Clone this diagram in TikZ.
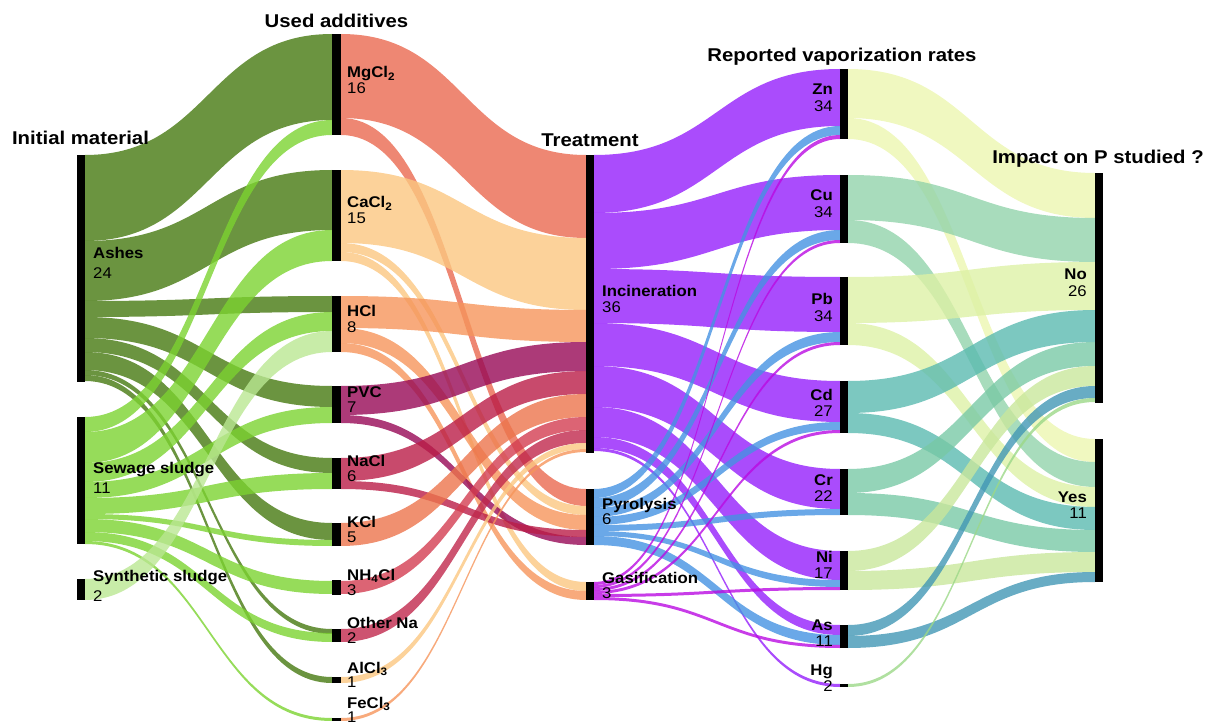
\documentclass[tikz,border=0pt]{standalone}
\usepackage{fontspec}
\setmainfont{Liberation Sans}
\usepackage{graphicx}
\usepackage{xcolor}
\usetikzlibrary{calc}

%% flow colours (drawn at 0.8 opacity)
\definecolor{ashcol}{RGB}{70,121,16}
\definecolor{sewcol}{RGB}{124,211,49}
\definecolor{syncol}{RGB}{186,231,146}
\definecolor{mgcol}{RGB}{234,105,80}
\definecolor{cacol}{RGB}{251,199,129}
\definecolor{hclcol}{RGB}{246,149,91}
\definecolor{pvccol}{RGB}{151,9,86}
\definecolor{naclcol}{RGB}{186,29,71}
\definecolor{kclcol}{RGB}{236,116,76}
\definecolor{nhcol}{RGB}{211,61,81}
\definecolor{othcol}{RGB}{192,40,76}
\definecolor{incol}{RGB}{149,31,251}
\definecolor{pyrcol}{RGB}{69,146,226}
\definecolor{gascol}{RGB}{186,11,226}
\definecolor{zncol}{RGB}{236,246,176}
\definecolor{cucol}{RGB}{146,211,171}
\definecolor{pbcol}{RGB}{221,241,166}
\definecolor{cdcol}{RGB}{91,186,176}
\definecolor{crcol}{RGB}{121,201,166}
\definecolor{nicol}{RGB}{201,231,156}
\definecolor{ascol}{RGB}{66,151,181}
\definecolor{hgcol}{RGB}{156,216,136}

%% band: x1, top1, bottom1, x2, top2, bottom2, colour
\newcommand\band[7]{%
  \fill[#7,fill opacity=0.8] (#1,#2) .. controls ({(#1+#4)/2},#2) and ({(#1+#4)/2},#5) .. (#4,#5)
    -- (#4,#6) .. controls ({(#1+#4)/2},#6) and ({(#1+#4)/2},#3) .. (#1,#3) -- cycle;}
%% black bar: name, x, top, bottom
\newcommand\colbar[4]{\node[bar,minimum height=#4-#3] (#1) at (#2,{(#3+#4)/2}) {};}
\newcommand\stagelab[3]{\scalebox{1.08}[1]{\begin{tabular}[t]{@{}#1@{}}\textbf{#2}\\#3\end{tabular}}}
\newcommand\stagehead[1]{\scalebox{1.1}[1]{#1}}

\begin{document}
\begin{tikzpicture}[x=1pt,y=-1pt,
  bar/.style={fill=black,inner sep=0pt,minimum width=8.5pt},
  head/.style={font=\bfseries\fontsize{18.5}{20}\selectfont,anchor=base,inner sep=0pt},
  lab/.style={font=\fontsize{15.5}{15}\selectfont,inner sep=0pt,anchor=base west},
  labtight/.style={lab,font=\fontsize{15.5}{13}\selectfont},
  labwide/.style={lab,font=\fontsize{15.5}{20}\selectfont},
  labr/.style={font=\fontsize{15.5}{16.5}\selectfont,inner sep=0pt,anchor=base east}]
\useasboundingbox (0,0) rectangle (1213,727);

%% initial material -> used additives
\band{85}{155}{241}{332}{34}{120}{ashcol}
\band{85}{241}{301}{332}{170}{230}{ashcol}
\band{85}{301}{317}{332}{296}{312}{ashcol}
\band{85}{317}{338}{332}{386}{407}{ashcol}
\band{85}{338}{352}{332}{458}{473}{ashcol}
\band{85}{352}{370}{332}{523}{540}{ashcol}
\band{85}{370}{375}{332}{629}{634}{ashcol}
\band{85}{375}{381}{332}{677}{683}{ashcol}
\band{85}{417}{432}{332}{120}{135}{sewcol}
\band{85}{432}{463}{332}{230}{261}{sewcol}
\band{85}{463}{482}{332}{312}{331}{sewcol}
\band{85}{482}{498}{332}{407}{423}{sewcol}
\band{85}{498}{514}{332}{473}{489}{sewcol}
\band{85}{514}{519}{332}{540}{546}{sewcol}
\band{85}{519}{532}{332}{581}{594}{sewcol}
\band{85}{532}{541}{332}{633}{642}{sewcol}
\band{85}{541}{544}{332}{718}{721}{sewcol}
\band{85}{579}{600}{332}{331}{352}{syncol}

%% used additives -> treatment
\band{341}{34}{118}{586}{155}{238}{mgcol}
\band{341}{118}{135}{586}{489}{506}{mgcol}
\band{341}{170}{243}{586}{238}{310}{cacol}
\band{341}{243}{252}{586}{506}{515}{cacol}
\band{341}{252}{261}{586}{582}{591}{cacol}
\band{341}{296}{328}{586}{310}{342}{hclcol}
\band{341}{328}{343}{586}{515}{530}{hclcol}
\band{341}{343}{352}{586}{591}{600}{hclcol}
\band{341}{386}{415}{586}{342}{371}{pvccol}
\band{341}{415}{423}{586}{537}{545}{pvccol}
\band{341}{458}{481}{586}{371}{394}{naclcol}
\band{341}{481}{489}{586}{530}{537}{naclcol}
\band{341}{523}{546}{586}{394}{417}{kclcol}
\band{341}{581}{594}{586}{417}{430}{nhcol}
\band{341}{629}{642}{586}{430}{443}{othcol}
\band{341}{677}{683}{586}{443}{449}{cacol}
\band{341}{718}{721}{586}{449}{452}{hclcol}

%% treatment -> vaporization rates
\band{594}{155}{213}{840}{69}{126}{incol}
\band{594}{213}{269}{840}{175}{230}{incol}
\band{594}{269}{323}{840}{277}{332}{incol}
\band{594}{323}{366}{840}{381}{422}{incol}
\band{594}{366}{407}{840}{469}{509}{incol}
\band{594}{407}{437}{840}{551}{580}{incol}
\band{594}{437}{448}{840}{625}{635}{incol}
\band{594}{448}{451}{840}{684}{687}{incol}
\band{594}{489}{498}{840}{126}{135}{pyrcol}
\band{594}{498}{508}{840}{230}{240}{pyrcol}
\band{594}{508}{517}{840}{332}{342}{pyrcol}
\band{594}{517}{525}{840}{422}{430}{pyrcol}
\band{594}{525}{531}{840}{509}{515}{pyrcol}
\band{594}{531}{536}{840}{580}{587}{pyrcol}
\band{594}{536}{545}{840}{635}{645}{pyrcol}
\band{594}{582}{585}{840}{135}{139}{gascol}
\band{594}{585}{588}{840}{240}{243}{gascol}
\band{594}{588}{591}{840}{342}{345}{gascol}
\band{594}{591}{594}{840}{430}{433}{gascol}
\band{594}{594}{597}{840}{587}{590}{gascol}
\band{594}{597}{600}{840}{645}{648}{gascol}

%% vaporization rates -> impact on P
\band{848}{69}{118}{1095}{173}{218}{zncol}
\band{848}{118}{139}{1095}{439}{462}{zncol}
\band{848}{175}{220}{1095}{218}{262}{cucol}
\band{848}{220}{243}{1095}{462}{487}{cucol}
\band{848}{277}{323}{1095}{262}{310}{pbcol}
\band{848}{323}{345}{1095}{487}{507}{pbcol}
\band{848}{381}{413}{1095}{310}{342}{cdcol}
\band{848}{413}{433}{1095}{507}{530}{cdcol}
\band{848}{469}{493}{1095}{342}{366}{crcol}
\band{848}{493}{515}{1095}{530}{552}{crcol}
\band{848}{551}{571}{1095}{366}{386}{nicol}
\band{848}{571}{590}{1095}{552}{572}{nicol}
\band{848}{625}{636}{1095}{386}{398}{ascol}
\band{848}{636}{648}{1095}{572}{582}{ascol}
\band{848}{684}{687}{1095}{398}{402}{hgcol}

%% bars
\colbar{ashes}{81}{155}{382}
\colbar{sewage}{81}{417}{544}
\colbar{synth}{81}{579}{600}
\colbar{mgcl}{336.5}{34}{135}
\colbar{cacl}{336.5}{170}{261}
\colbar{hcl}{336.5}{296}{352}
\colbar{pvc}{336.5}{386}{423}
\colbar{nacl}{336.5}{458}{489}
\colbar{kcl}{336.5}{523}{546}
\colbar{nhcl}{336.5}{580}{595}
\colbar{otherna}{336.5}{629}{642}
\colbar{alcl}{336.5}{677}{683}
\colbar{fecl}{336.5}{718}{721}
\colbar{incin}{590}{155}{453}
\colbar{pyro}{590}{489}{545}
\colbar{gasif}{590}{582}{600}
\colbar{zn}{844}{69}{139}
\colbar{cu}{844}{175}{243}
\colbar{pb}{844}{277}{345}
\colbar{cd}{844}{381}{433}
\colbar{cr}{844}{469}{515}
\colbar{ni}{844}{551}{590}
\colbar{as}{844}{625}{648}
\colbar{hg}{844}{684}{687}
\colbar{no}{1099}{173}{403}
\colbar{yes}{1099}{439}{582}

%% stage headings
\node[head] (h1) at (80.5,145) {\stagehead{Initial material}};
\node[head] (h2) at (336.5,28) {\stagehead{Used additives}};
\node[head] (h3) at (590,147) {\stagehead{Treatment}};
\node[head] (h4) at (842,62) {\stagehead{Reported vaporization rates}};
\node[head] (h5) at (1098,164) {\stagehead{Impact on P studied ?}};

%% labels
\node[labwide] (l-ashes) at (93,259) {\stagelab{l}{Ashes}{24}};
\node[labwide] (l-sewage) at (93,473) {\stagelab{l}{Sewage sludge}{11}};
\node[labwide] (l-synth) at (93,581) {\stagelab{l}{Synthetic sludge}{2}};
\node[lab] (l-mgcl) at (347,78) {\stagelab{l}{MgCl\textsubscript{2}}{16}};
\node[lab] (l-cacl) at (347,208) {\stagelab{l}{CaCl\textsubscript{2}}{15}};
\node[lab] (l-hcl) at (347,317) {\stagelab{l}{HCl}{8}};
\node[lab] (l-pvc) at (347,397) {\stagelab{l}{PVC}{7}};
\node[lab] (l-nacl) at (347,466) {\stagelab{l}{NaCl}{6}};
\node[lab] (l-kcl) at (347,527) {\stagelab{l}{KCl}{5}};
\node[lab] (l-nhcl) at (347,580) {\stagelab{l}{NH\textsubscript{4}Cl}{3}};
\node[lab] (l-otherna) at (347,628) {\stagelab{l}{Other Na}{2}};
\node[labtight] (l-alcl) at (347,673) {\stagelab{l}{AlCl\textsubscript{3}}{1}};
\node[labtight] (l-fecl) at (347,708) {\stagelab{l}{FeCl\textsubscript{3}}{1}};
\node[lab] (l-incin) at (602,297) {\stagelab{l}{Incineration}{36}};
\node[lab] (l-pyro) at (602,509) {\stagelab{l}{Pyrolysis}{6}};
\node[lab] (l-gasif) at (602,583) {\stagelab{l}{Gasification}{3}};
\node[labr] (l-zn) at (833,95) {\stagelab{r}{Zn}{34}};
\node[labr] (l-cu) at (833,201) {\stagelab{r}{Cu}{34}};
\node[labr] (l-pb) at (833,305) {\stagelab{r}{Pb}{34}};
\node[labr] (l-cd) at (833,400) {\stagelab{r}{Cd}{27}};
\node[labr] (l-cr) at (833,485) {\stagelab{r}{Cr}{22}};
\node[labr] (l-ni) at (833,562) {\stagelab{r}{Ni}{17}};
\node[labr] (l-as) at (833,630) {\stagelab{r}{As}{11}};
\node[labr] (l-hg) at (833,675) {\stagelab{r}{Hg}{2}};
\node[labr] (l-no) at (1087,280) {\stagelab{r}{No}{26}};
\node[labr] (l-yes) at (1087,502) {\stagelab{r}{Yes}{11}};
\end{tikzpicture}
\end{document}
